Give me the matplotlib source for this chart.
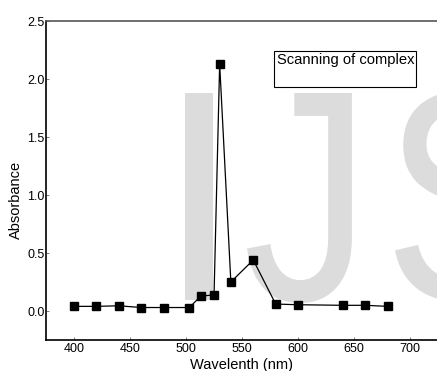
import matplotlib
matplotlib.use("Agg")
import matplotlib.pyplot as plt
from matplotlib.patches import Rectangle, PathPatch
from matplotlib.textpath import TextPath
from matplotlib.font_manager import FontProperties
from matplotlib.transforms import Affine2D

plt.rcParams['font.family'] = ['Liberation Sans', 'DejaVu Sans']

wavelength = [400, 420, 440, 460, 480, 503, 513, 525, 530, 540, 560, 580, 600, 640, 660, 680]
absorbance = [0.04, 0.04, 0.045, 0.03, 0.03, 0.03, 0.127, 0.14, 2.13, 0.25, 0.44, 0.06, 0.054, 0.049, 0.049, 0.04]
xticks = [400, 450, 500, 550, 600, 650, 700]
yticks = [0.0, 0.5, 1.0, 1.5, 2.0, 2.5]
legend_text = "Scanning of complex"
watermark = "IJS"

W, H = 437, 371
fig = plt.figure(figsize=(W / 100, H / 100), dpi=100)
ax = fig.add_axes([46 / W, (H - 340) / H, 1 - 46 / W, (340 - 21) / H])
ax.set_zorder(2)
ax.set_facecolor('none')

# watermark letters behind the plot (pixel placement: left x, cap top y, baseline y, x-scale)
fp = FontProperties(family='Liberation Sans')
letter_boxes = [(185, 93, 300, 1.0), (247, 93, 300, 0.85), (395, 93, 300, 0.85)]
for ch, (lx, ty, by, xs) in zip(watermark, letter_boxes):
    tp = TextPath((0, 0), ch, size=100, prop=fp)
    cap = TextPath((0, 0), "I", size=100, prop=fp).get_extents()
    ext = tp.get_extents()
    s = (by - ty) / cap.height
    tr = Affine2D().translate(-ext.x0, 0).scale(s * xs, s).translate(lx, H - by)
    patch = PathPatch(tr.transform_path(tp), facecolor='#dcdcdc', edgecolor='none',
                      transform=Affine2D(), zorder=0)
    fig.add_artist(patch)

ax.plot(wavelength, absorbance, color='black', lw=0.9, marker='s',
        markersize=6, markerfacecolor='black', markeredgecolor='black', zorder=3)

ax.set_xlim(375, 724)
ax.set_ylim(-0.25, 2.5)
ax.set_xticks(xticks)
ax.set_yticks(yticks)
ax.set_xticklabels([str(t) for t in xticks], fontsize=9)
ax.set_yticklabels([f"{t:.1f}" for t in yticks], fontsize=9)
ax.tick_params(axis='both', direction='in', length=2, width=0.6, color='#666666')
ax.tick_params(axis='x', pad=2)
ax.tick_params(axis='y', pad=1)

ax.spines['right'].set_visible(False)
ax.spines['top'].set_color('#555555')
ax.spines['top'].set_linewidth(1.2)
ax.spines['left'].set_linewidth(1.2)
ax.spines['bottom'].set_linewidth(1.2)

ax.set_xlabel("Wavelenth (nm)", fontsize=10.5, labelpad=2)
ax.set_ylabel("Absorbance", fontsize=10.5)
ax.yaxis.set_label_coords(-0.06, 0.44)

# legend-like box
box = Rectangle((274 / W, (H - 87) / H), (416 - 274) / W, 36 / H,
                transform=fig.transFigure, facecolor='white', edgecolor='black',
                lw=0.8, zorder=5)
fig.add_artist(box)
fig.text(277 / W, (H - 53) / H, legend_text, fontsize=10.6, ha='left', va='top', zorder=6)

fig.savefig("out.png", dpi=100)
